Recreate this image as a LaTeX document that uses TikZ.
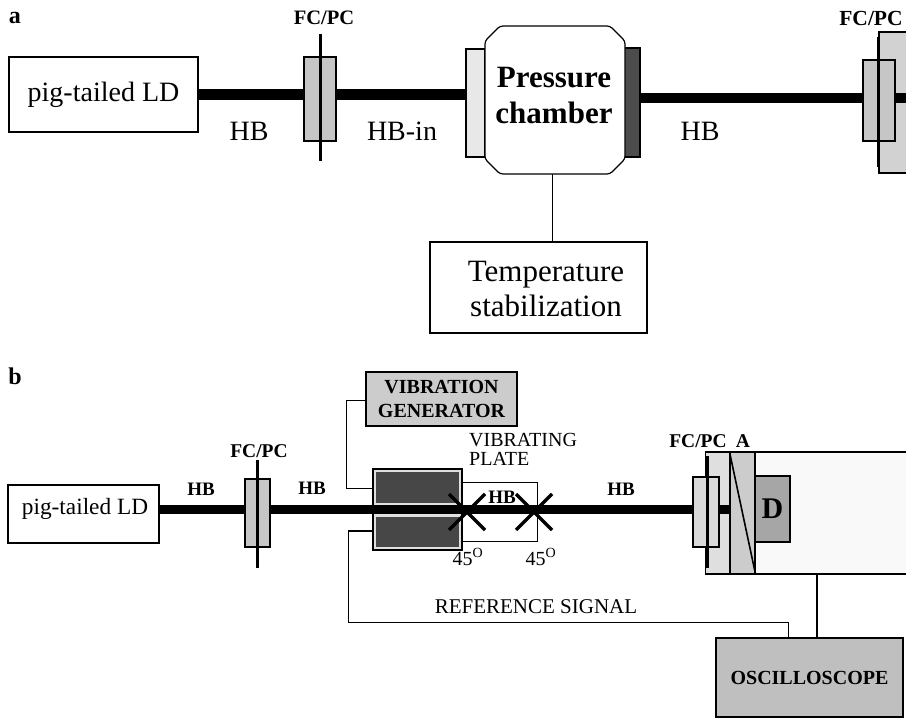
\documentclass[tikz,border=0pt]{standalone}
\usepackage{fontspec}
\setmainfont{Liberation Serif}
\newcommand{\sized}[2]{\fontsize{#1}{#2}\selectfont}

\begin{document}
\begin{tikzpicture}[
    x=1pt, y=-1pt,
    box/.style={rectangle, draw, line width=1.2pt, inner sep=0pt, align=center},
    plug/.style={box, fill=gray!45},
    window/.style={box, fill=gray!18},
    fibre/.style={line width=#1, draw=black},
    ferrule/.style={line width=3pt, draw=black},
    wire/.style={line width=1pt, draw=black},
    tag/.style={inner sep=0pt, align=center}
]
\clip (0,0) rectangle (906,719);
\fill[white] (0,0) rectangle (906,719);

% Panel a
\node[tag, font=\sized{24}{28}\bfseries] (labelA) at (15,18) {a};
\node[box, minimum width=189pt, minimum height=75pt, font=\sized{28}{32}] (ldA) at (103.5,94.5) {pig-tailed LD};

% Input connector
\node[plug, minimum width=32pt, minimum height=84pt] (plugA) at (320,99) {};
\node[tag, font=\sized{20.5}{24}\bfseries] (fcA) at (324,18) {FC/PC};

% Pressure chamber
\node[window, minimum width=19pt, minimum height=108pt] (winIn) at (475.5,103) {};
\node[box, fill=black!70, minimum width=17pt, minimum height=109pt] (winOut) at (631.5,102.5) {};
\draw[line width=1.2pt, fill=white, rounded corners=3pt] (485,41) -- (500,26) -- (610,26) -- (625,41) -- (625,159) -- (610,174) -- (500,174) -- (485,159) -- cycle;
\node[minimum width=140pt, minimum height=148pt, inner sep=0pt] (chamber) at (555,100) {};
\node[tag, font=\sized{31}{36}\bfseries] (chamberLabel) at (554,96) {Pressure\\chamber};

% Output connector
\node[box, fill=gray!35, minimum width=40pt, minimum height=141pt] (bigA) at (899,102.5) {};
\draw[fibre=10pt] (winOut.east |- 0,98) coordinate (outA) -- (bigA.east |- outA);
\node[plug, minimum width=32pt, minimum height=81pt] (plugOut) at (879,100.5) {};
\node[tag, font=\sized{21.5}{24}\bfseries] (fcOut) at (871,18) {FC/PC};

% Fibres a
\draw[fibre=11pt] (ldA) -- (plugA.west |- ldA);
\draw[fibre=11pt] (plugA.east |- ldA) -- (winIn.west |- ldA);
\draw[ferrule] ([yshift=22pt]plugA.north) -- ([yshift=-19pt]plugA.south);
\draw[ferrule] ([xshift=-1pt,yshift=22pt]plugOut.north) -- ([xshift=-1pt,yshift=-25pt]plugOut.south);
\node[tag, font=\sized{28}{32}] (hbA) at (249,131) {HB};
\node[tag, font=\sized{28}{32}] (hbIn) at (402,131) {HB-in};
\node[tag, font=\sized{28}{32}] (hbOut) at (700,131) {HB};

% Temperature
\node[box, minimum width=217pt, minimum height=91pt] (temp) at (538.5,287.5) {};
\node[tag, font=\sized{31}{35}] (tempLabel) at (546,289) {Temperature\\stabilization};
\draw[wire] (temp.north -| 552,0) coordinate (tempTop) -- (chamber.south -| tempTop);

% Panel b
\node[tag, font=\sized{24}{28}\bfseries] (labelB) at (15,376) {b};
\node[box, minimum width=151pt, minimum height=58pt, font=\sized{23.3}{27}] (ldB) at (83.5,514) {};
\node[tag, font=\sized{23.3}{27}] (ldBLabel) at (85,509) {pig-tailed LD};
\node[plug, minimum width=25pt, minimum height=68pt] (plugB) at (257.5,513) {};
\node[tag, font=\sized{19.5}{23}\bfseries] (fcB) at (259,451) {FC/PC};

% Vibration generator
\node[box, line width=2pt, fill=gray!40, minimum width=151pt, minimum height=54pt,
      font=\sized{20}{24}\bfseries] (vibgen) at (441.5,399) {VIBRATION\\GENERATOR};

% Vibrating plate
\node[box, line width=2.5pt, fill=gray!25, minimum width=89pt, minimum height=81pt] (shaker) at (417.5,509.5) {};
\node[rectangle, inner sep=0pt, fill=black!72, minimum width=83pt, minimum height=31pt] (coilTop) at (417,488) {};
\node[rectangle, inner sep=0pt, fill=black!72, minimum width=83pt, minimum height=30pt] (coilBot) at (417,532) {};
\node[box, line width=1pt, minimum width=75pt, minimum height=58pt] (plate) at (499.5,512) {};
\node[tag, font=\sized{20}{19}, align=left, anchor=north west] (vibLabel) at (469,433) {VIBRATING\\PLATE};
\node[tag, font=\sized{19}{22}\bfseries] (hbPlate) at (502,497) {HB};

% Analyser and detector
\node[box, fill=gray!5, minimum width=209pt, minimum height=122pt] (detbox) at (810.5,513) {};
\node[rectangle, inner sep=0pt, fill=gray!25, minimum width=24pt, minimum height=120pt] (fcBack) at (718,513) {};
\node[box, fill=gray!40, minimum width=25pt, minimum height=122pt] (analyser) at (742.5,513) {};
\draw[line width=1.6pt] (analyser.north west) -- (analyser.south east);
\node[box, fill=gray!70, minimum width=35pt, minimum height=66pt, font=\sized{30}{34}\bfseries] (det) at (772.5,509) {D};
\node[plug, fill=gray!30, minimum width=26pt, minimum height=70pt] (plugDet) at (706,512) {};
\node[tag, font=\sized{19.5}{23}\bfseries] (fcDet) at (698,441) {FC/PC};
\node[tag, font=\sized{19.5}{23}\bfseries] (labelAn) at (743,441) {A};

% Fibres b
\draw[fibre=9pt] (ldB.east |- 0,510) coordinate (midB) -- (plugB.west |- midB);
\draw[fibre=9pt] (plugB.east |- midB) -- (plugDet.west |- midB);
\draw[fibre=9pt] (plugDet.east |- midB) -- (analyser.west |- midB);
\draw[ferrule] ([yshift=18pt]plugB.north) -- ([yshift=-20pt]plugB.south);
\draw[ferrule] ([xshift=1pt,yshift=20pt]plugDet.north) -- ([xshift=1pt,yshift=-20pt]plugDet.south);

% Crossed fibres
\coordinate (crossA) at (467,512);
\coordinate (crossB) at (534,512);
\foreach \c in {crossA,crossB} {
    \draw[line width=3.5pt] ([shift={(-18,-18)}]\c) -- ([shift={(18,18)}]\c);
    \draw[line width=3.5pt] ([shift={(-18,18)}]\c) -- ([shift={(18,-18)}]\c);
}
\node[tag, font=\sized{20}{24}] (angA) at (468,557) {45\textsuperscript{O}};
\node[tag, font=\sized{20}{24}] (angB) at (541,557) {45\textsuperscript{O}};
\node[tag, font=\sized{19}{22}\bfseries] (hbB) at (201,489) {HB};
\node[tag, font=\sized{19}{22}\bfseries] (hbC) at (312,488) {HB};
\node[tag, font=\sized{19}{22}\bfseries] (hbD) at (621,489) {HB};

% Oscilloscope
\node[box, line width=2pt, fill=gray!50, minimum width=187pt, minimum height=79pt, font=\sized{20}{24}\bfseries] (scope) at (809.5,677.5) {OSCILLOSCOPE};
\node[tag, font=\sized{21}{24}] (refLabel) at (536,607) {REFERENCE SIGNAL};

% Wires b
\coordinate (bendGen) at (346,401);
\coordinate (bendRef) at (348,622);
\draw[wire] (vibgen.west |- bendGen) -- (bendGen) |- ([yshift=20.5pt]shaker.west);
\draw[wire] ([yshift=-21.5pt]shaker.west) -| (bendRef) -| ([xshift=-21.5pt]scope.north);
\draw[wire, line width=1.3pt] ([xshift=7.5pt]scope.north) -- ([xshift=6.5pt]detbox.south);
\end{tikzpicture}
\end{document}
